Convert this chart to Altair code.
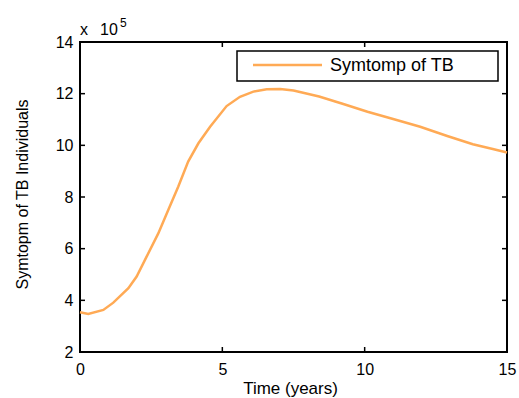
import altair as alt
import pandas as pd

# Time (years)
time_years = [0, 0.29, 0.82, 1.17, 1.7, 1.99, 2.34, 2.75, 3.1, 3.45, 3.8, 4.16, 4.57,
              5.15, 5.62, 6.09, 6.56, 7.03, 7.5, 8.4, 9.25, 10.1, 11.0, 11.95, 12.9,
              13.8, 14.5, 15.0]
# Symptomatic TB individuals (absolute counts)
symptom_tb = [354000, 347000, 363000, 391000, 447000, 492000, 569000, 659000, 750000,
              840000, 937000, 1008000, 1072000, 1152000, 1188000, 1208000, 1217000,
              1218000, 1212000, 1189000, 1160000, 1130000, 1102000, 1072000, 1036000,
              1004000, 986000, 972000]

x_ticks = [0, 5, 10, 15]
y_ticks = [2, 4, 6, 8, 10, 12, 14]
series_name = "Symtomp of TB"

LINE_COLOR = "#FFAA55"
FONT = "Liberation Sans"
W, H = 427, 310

df = pd.DataFrame({"t": time_years, "v": symptom_tb})
xt = pd.DataFrame({"t": x_ticks})
yt = pd.DataFrame({"y": y_ticks})

xscale = alt.Scale(domain=[0, 15], nice=False, zero=False)
yscale = alt.Scale(domain=[2, 14], nice=False, zero=False)

line = alt.Chart(df).transform_calculate(y="datum.v / 100000").mark_line(
    color=LINE_COLOR, strokeWidth=2.5
).encode(
    x=alt.X("t:Q", scale=xscale,
            axis=alt.Axis(values=x_ticks, title="Time (years)", grid=False, domain=False,
                          ticks=False, labelPadding=9, labelFontSize=16, labelColor="black",
                          labelFont=FONT, titleFont=FONT, titleFontSize=17,
                          titleFontWeight="normal", titleColor="black",
                          titleX=210, titleY=41, titleBaseline="alphabetic",
                          labelFlush=False)),
    y=alt.Y("y:Q", scale=yscale,
            axis=alt.Axis(values=y_ticks, title="Symtopm of TB Individuals", grid=False,
                          domain=False, ticks=False, labelPadding=7, labelFontSize=16,
                          labelColor="black", labelFont=FONT, titleFont=FONT,
                          titleFontSize=16, titleFontWeight="normal", titleColor="black",
                          titleX=-58, titleY=152, titleBaseline="middle", titleAlign="center",
                          titleAngle=270, labelFlush=False)),
)

tick_len = 5
left_ticks = alt.Chart(yt).mark_rule(color="black", strokeWidth=1.5).encode(
    y=alt.Y("y:Q", scale=yscale), x=alt.value(0), x2=alt.value(tick_len))
right_ticks = alt.Chart(yt).mark_rule(color="black", strokeWidth=1.5).encode(
    y=alt.Y("y:Q", scale=yscale), x=alt.value(W - tick_len), x2=alt.value(W))
bottom_ticks = alt.Chart(xt).mark_rule(color="black", strokeWidth=1.5).encode(
    x=alt.X("t:Q", scale=xscale), y=alt.value(H - tick_len), y2=alt.value(H))
top_ticks = alt.Chart(xt).mark_rule(color="black", strokeWidth=1.5).encode(
    x=alt.X("t:Q", scale=xscale), y=alt.value(0), y2=alt.value(tick_len))

# exponent label
exp_x = alt.Chart(pd.DataFrame({"s": ["x"]})).mark_text(
    align="left", baseline="alphabetic", font=FONT, fontSize=16, color="black"
).encode(x=alt.value(0), y=alt.value(-7), text="s:N")
exp_10 = alt.Chart(pd.DataFrame({"s": ["10"]})).mark_text(
    align="left", baseline="alphabetic", font=FONT, fontSize=16, color="black"
).encode(x=alt.value(20), y=alt.value(-7), text="s:N")
exp_5 = alt.Chart(pd.DataFrame({"s": ["5"]})).mark_text(
    align="left", baseline="alphabetic", font=FONT, fontSize=12, color="black"
).encode(x=alt.value(40), y=alt.value(-15), text="s:N")

# legend
leg = pd.DataFrame({"name": [series_name]})
leg_box = alt.Chart(leg).mark_rect(fill="white", stroke="black", strokeWidth=1.5).encode(
    x=alt.value(157), x2=alt.value(418), y=alt.value(9), y2=alt.value(39))
leg_line = alt.Chart(leg).mark_rule(color=LINE_COLOR, strokeWidth=2.5).encode(
    x=alt.value(173), x2=alt.value(242), y=alt.value(23))
leg_text = alt.Chart(leg).mark_text(
    align="left", baseline="middle", font=FONT, fontSize=18, color="black"
).encode(x=alt.value(250), y=alt.value(24), text="name:N")

chart = alt.layer(
    line, left_ticks, right_ticks, bottom_ticks, top_ticks,
    exp_x, exp_10, exp_5, leg_box, leg_line, leg_text
).properties(
    width=W, height=H,
    autosize=alt.AutoSizeParams(type="none"),
    padding={"left": 80, "top": 42, "right": 12, "bottom": 46},
    background="white",
).configure_view(stroke="black", strokeWidth=2)

chart.save("out.html", embed_options={"renderer": "svg", "actions": False})
